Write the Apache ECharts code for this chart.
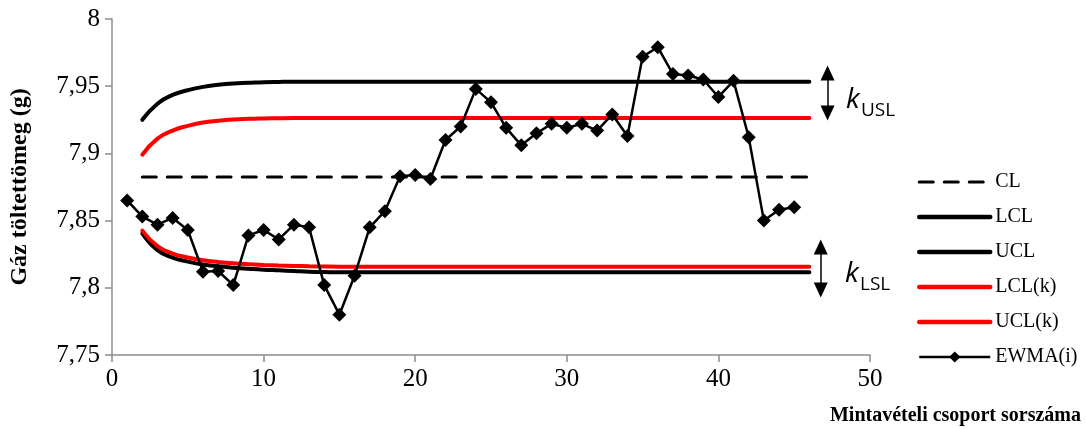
<!DOCTYPE html>
<html>
<head>
    <meta charset="utf-8">
    <style>
        body{
            margin:0;
            padding:0;
            background:#fff;
        }
        #chart{
            width: 1086px;
            height: 429px;
        }
    </style>
</head>
<body>
    <div id="chart"></div>
    <script src="https://cdn.jsdelivr.net/npm/echarts@6/dist/echarts.min.js"></script>
    <script>
        // mintavételi csoport sorszáma
        var ewmaX = [1,2,3,4,5,6,7,8,9,10,11,12,13,14,15,16,17,18,19,20,21,22,23,24,25,26,27,28,29,30,31,32,33,34,35,36,37,38,39,40,41,42,43,44,45];
        var ewma = [7.865,7.853,7.847,7.852,7.843,7.812,7.8125,7.802,7.839,7.843,7.836,7.847,7.845,7.802,7.780,7.809,7.845,7.857,7.883,
                    7.884,7.881,7.910,7.920,7.948,7.938,7.919,7.906,7.915,7.922,7.919,7.922,7.917,7.929,7.913,7.972,7.979,7.959,
                    7.958,7.955,7.942,7.954,7.912,7.850,7.858,7.860];

        var limitX = [2,3,4,5,6,7,8,9,10,11,12,13,14,15,16,17,18,19,20,21,22,23,24,25,26,27,28,29,30,31,32,33,34,35,36,37,38,39,40,41,42,43,44,45,46];
        var cl = [7.8825,7.8825,7.8825,7.8825,7.8825,7.8825,7.8825,7.8825,7.8825,7.8825,7.8825,7.8825,7.8825,7.8825,7.8825,
                  7.8825,7.8825,7.8825,7.8825,7.8825,7.8825,7.8825,7.8825,7.8825,7.8825,7.8825,7.8825,7.8825,7.8825,7.8825,
                  7.8825,7.8825,7.8825,7.8825,7.8825,7.8825,7.8825,7.8825,7.8825,7.8825,7.8825,7.8825,7.8825,7.8825,7.8825];
        var lcl = [7.8405,7.828,7.8225,7.8195,7.8173,7.816,7.815,7.8142,7.8135,7.813,7.8125,7.812,7.8117,7.8115,7.8115,
                   7.8115,7.8115,7.8115,7.8115,7.8115,7.8115,7.8115,7.8115,7.8115,7.8115,7.8115,7.8115,7.8115,7.8115,7.8115,
                   7.8115,7.8115,7.8115,7.8115,7.8115,7.8115,7.8115,7.8115,7.8115,7.8115,7.8115,7.8115,7.8115,7.8115,7.8115];
        var ucl = [7.925,7.937,7.9435,7.947,7.9495,7.951,7.952,7.9525,7.953,7.9532,7.9533,7.9533,7.9533,7.9533,7.9533,
                   7.9533,7.9533,7.9533,7.9533,7.9533,7.9533,7.9533,7.9533,7.9533,7.9533,7.9533,7.9533,7.9533,7.9533,7.9533,
                   7.9533,7.9533,7.9533,7.9533,7.9533,7.9533,7.9533,7.9533,7.9533,7.9533,7.9533,7.9533,7.9533,7.9533,7.9533];
        var lclK = [7.8425,7.831,7.8255,7.8225,7.8205,7.8192,7.8182,7.8175,7.817,7.8166,7.8163,7.816,7.8158,7.8157,7.8157,
                    7.8157,7.8157,7.8157,7.8157,7.8157,7.8157,7.8157,7.8157,7.8157,7.8157,7.8157,7.8157,7.8157,7.8157,7.8157,
                    7.8157,7.8157,7.8157,7.8157,7.8157,7.8157,7.8157,7.8157,7.8157,7.8157,7.8157,7.8157,7.8157,7.8157,7.8157];
        var uclK = [7.899,7.911,7.917,7.9205,7.923,7.9243,7.9252,7.9257,7.926,7.9262,7.9263,7.9263,7.9263,7.9263,7.9263,
                    7.9263,7.9263,7.9263,7.9263,7.9263,7.9263,7.9263,7.9263,7.9263,7.9263,7.9263,7.9263,7.9263,7.9263,7.9263,
                    7.9263,7.9263,7.9263,7.9263,7.9263,7.9263,7.9263,7.9263,7.9263,7.9263,7.9263,7.9263,7.9263,7.9263,7.9263];

        var legendNames = ["CL", "LCL", "UCL", "LCL(k)", "UCL(k)", "EWMA(i)"];
        // kettős nyilak: [x, y_felső, y_alsó]
        var arrowUSL = [47.2, 7.9598, 7.930];
        var arrowLSL = [46.75, 7.8304, 7.7984];
    </script>
    <script>
        var chart = echarts.init(document.getElementById("chart"));
        var serif = "'Liberation Serif', 'Times New Roman', serif";

        function pairs(xs, ys){
            var out = [];
            for (var i = 0; i < xs.length; i++) out.push([xs[i], ys[i]]);
            return out;
        }

        function limitSeries(name, ys, color, dash){
            return {
                name: name,
                type: "line",
                data: pairs(limitX, ys),
                smooth: 0.5,
                symbol: "none",
                z: dash ? 3 : 2,
                lineStyle: { color: color, width: dash ? 3 : 4, type: dash ? [14, 11] : "solid", cap: "round" },
                itemStyle: { color: color }
            };
        }

        function arrowLine(a){
            return [[{ coord: [a[0], a[1]] }, { coord: [a[0], a[2]] }]];
        }

        var ucls = limitSeries("UCL", ucl, "#000", false);
        ucls.markLine = {
            silent: true,
            symbol: ["triangle", "triangle"],
            symbolSize: [14, 15],
            label: { show: false },
            lineStyle: { color: "#000", width: 1.5, type: "solid" },
            data: arrowLine(arrowUSL).concat(arrowLine(arrowLSL))
        };

        var legendData = legendNames.map(function(n){
            if (n === "EWMA(i)") return { name: n, lineStyle: { width: 2.5 } };
            return {
                name: n,
                itemStyle: { opacity: 0 },
                lineStyle: n === "CL" ? { width: 3, type: [14, 11] } : { width: 4.5 }
            };
        });

        var option = {
            animation: false,
            title: {
                text: "Mintavételi csoport sorszáma",
                right: 0,
                top: 401,
                textStyle: { fontFamily: serif, fontWeight: "bold", fontSize: 20, color: "#000" }
            },
            grid: { left: 112, right: 216, top: 19, bottom: 74 },
            legend: {
                orient: "vertical",
                left: 912,
                top: 167,
                itemWidth: 71,
                itemHeight: 14,
                itemGap: 15,
                data: legendData,
                textStyle: { fontFamily: serif, fontSize: 20, color: "#000" }
            },
            xAxis: {
                type: "value",
                min: 0,
                max: 50,
                interval: 10,
                splitLine: { show: false },
                axisLine: { lineStyle: { color: "#8c8c8c", width: 1.5 } },
                axisTick: { length: 7, lineStyle: { color: "#8c8c8c", width: 1.5 } },
                axisLabel: { margin: 12, fontFamily: serif, fontSize: 25, color: "#000" }
            },
            yAxis: {
                type: "value",
                min: 7.75,
                max: 8,
                interval: 0.05,
                name: "Gáz töltettömeg (g)",
                nameLocation: "middle",
                nameRotate: 90,
                nameGap: 80,
                nameTextStyle: { fontFamily: serif, fontWeight: "bold", fontSize: 24, color: "#000" },
                splitLine: { show: false },
                axisLine: { show: true, lineStyle: { color: "#8c8c8c", width: 1.5 } },
                axisTick: { show: true, length: 7, lineStyle: { color: "#8c8c8c", width: 1.5 } },
                axisLabel: {
                    margin: 12,
                    fontFamily: serif,
                    fontSize: 25,
                    color: "#000",
                    formatter: function(v){ return String(+v.toFixed(2)).replace(".", ","); }
                }
            },
            series: [
                limitSeries("CL", cl, "#000", true),
                limitSeries("LCL", lcl, "#000", false),
                ucls,
                limitSeries("LCL(k)", lclK, "#ff0000", false),
                limitSeries("UCL(k)", uclK, "#ff0000", false),
                {
                    name: "EWMA(i)",
                    type: "line",
                    data: pairs(ewmaX, ewma),
                    symbol: "diamond",
                    symbolSize: 14,
                    z: 5,
                    lineStyle: { color: "#000", width: 2.5 },
                    itemStyle: { color: "#000" }
                }
            ],
            graphic: [
                { type: "text", left: 846, top: 86, style: { text: "k", font: "italic 28px 'Open Sans', sans-serif", fill: "#000" } },
                { type: "text", left: 861, top: 101, style: { text: "USL", font: "19px 'Open Sans', sans-serif", fill: "#000" } },
                { type: "text", left: 845, top: 260, style: { text: "k", font: "italic 28px 'Open Sans', sans-serif", fill: "#000" } },
                { type: "text", left: 860, top: 275, style: { text: "LSL", font: "19px 'Open Sans', sans-serif", fill: "#000" } }
            ]
        };

        chart.setOption(option);
    </script>
</body>
</html>
